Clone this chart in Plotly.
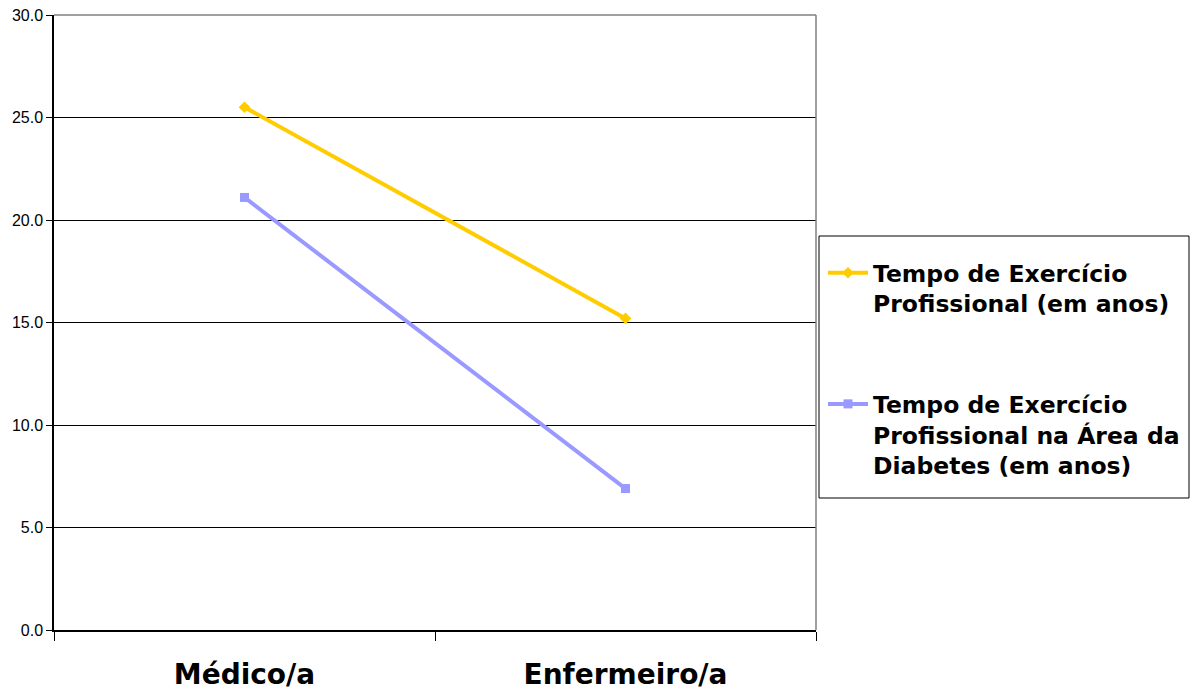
import plotly.graph_objects as go

categories = ["Médico/a", "Enfermeiro/a"]
tempo_exercicio = [25.5, 15.2]
tempo_diabetes = [21.1, 6.9]
y_ticks = [0, 5, 10, 15, 20, 25, 30]

W, H = 1196, 694
L, R, T, B = 54, 380, 15, 64

fig = go.Figure()
fig.add_trace(go.Scatter(
    x=categories, y=tempo_exercicio, mode="lines+markers",
    name="Tempo de Exercício<br>Profissional (em anos)", legendgroup="g1",
    line=dict(color="#FFCC00", width=4),
    marker=dict(symbol="diamond", size=9, color="#FFCC00"),
))
fig.add_trace(go.Scatter(
    x=categories, y=tempo_diabetes, mode="lines+markers",
    name="Tempo de Exercício<br>Profissional na Área da<br>Diabetes (em anos)", legendgroup="g2",
    line=dict(color="#9999FF", width=4),
    marker=dict(symbol="square", size=9, color="#9999FF"),
))

# legend frame
fig.add_shape(type="rect", xref="paper", yref="paper",
              x0=(819 - L) / (W - L - R), x1=(1189 - L) / (W - L - R),
              y0=(H - B - 498) / (H - T - B), y1=(H - B - 236) / (H - T - B),
              line=dict(color="#000000", width=1), fillcolor="rgba(0,0,0,0)")
# top / right plot border
fig.add_shape(type="line", xref="paper", yref="paper", x0=0, x1=1, y0=1, y1=1,
              line=dict(color="#808080", width=1.5))
fig.add_shape(type="line", xref="paper", yref="paper", x0=1, x1=1, y0=0, y1=1,
              line=dict(color="#808080", width=1.5))

fig.update_layout(
    width=W, height=H,
    margin=dict(l=L, r=R, t=T, b=B, autoexpand=False),
    paper_bgcolor="white", plot_bgcolor="white",
    showlegend=True,
    legend=dict(
        x=(823 - L) / (W - L - R), y=(H - B - 251) / (H - T - B),
        xanchor="left", yanchor="top",
        font=dict(family="DejaVu Sans", size=23.5, color="black", weight="bold"),
        valign="top", tracegroupgap=67, itemwidth=40,
        bgcolor="rgba(0,0,0,0)", borderwidth=0,
    ),
    xaxis=dict(
        type="category", range=[-0.5, 1.5], automargin=False,
        showgrid=False, showline=True, linecolor="black", linewidth=1.5,
        ticks="outside", tickson="boundaries", ticklen=9, tickcolor="black",
        tickfont=dict(family="DejaVu Sans", size=28, color="black", weight="bold"),
        ticklabelstandoff=19,
    ),
    yaxis=dict(
        range=[0, 30], tickvals=y_ticks, tickformat=".1f", automargin=False,
        showgrid=True, gridcolor="black", gridwidth=1,
        showline=True, linecolor="black", linewidth=1.5,
        ticks="outside", ticklen=6, tickcolor="black",
        tickfont=dict(family="Liberation Sans", size=16, color="black"),
        zeroline=False,
    ),
)

fig.write_html("out.html")
